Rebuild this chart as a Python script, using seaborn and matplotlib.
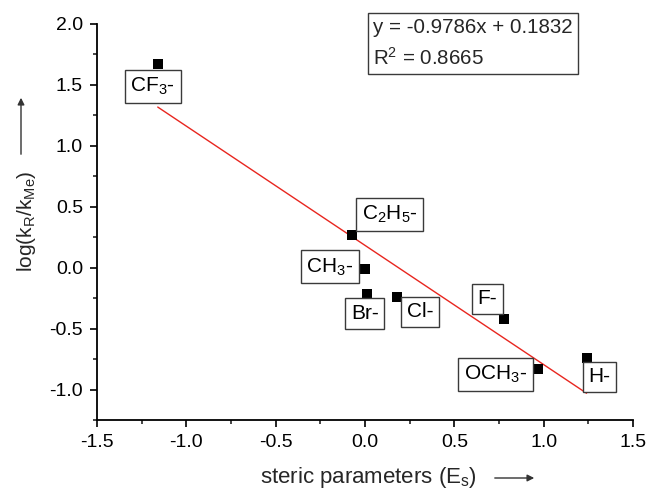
import matplotlib
matplotlib.use("Agg")
import matplotlib.pyplot as plt
from matplotlib.ticker import MultipleLocator, AutoMinorLocator
import seaborn as sns
import pandas as pd
import numpy as np

# Data
substituents = ["CF$_3$-", "C$_2$H$_5$-", "CH$_3$-", "Br-", "Cl-", "F-", "OCH$_3$-", "H-"]
steric_es = [-1.16, -0.07, 0.00, 0.01, 0.18, 0.78, 0.97, 1.24]
log_ratio = [1.67, 0.27, -0.01, -0.22, -0.24, -0.42, -0.83, -0.74]
fit_slope = -0.9786
fit_intercept = 0.1832
r_squared = 0.8665

# label offsets in pixels (layout)
label_offsets = [(-5, -22), (37, 20), (-35, 2), (-2, -19), (23, -15), (-17, 20), (-43, -6), (13, -19)]

sns.set_style("ticks")
plt.rcParams['font.family'] = ['Liberation Sans', 'DejaVu Sans']
plt.rcParams['mathtext.fontset'] = 'custom'
plt.rcParams['mathtext.rm'] = 'Liberation Sans'
plt.rcParams['mathtext.it'] = 'Liberation Sans'
plt.rcParams['mathtext.default'] = 'regular'

fig = plt.figure(figsize=(6.49, 4.92), dpi=100)
ax = fig.add_axes([97/649, 1-420/492, (633-97)/649, (420-24)/492])

df = pd.DataFrame({"x": steric_es, "y": log_ratio, "label": substituents})

xfit = np.array([min(steric_es), max(steric_es)])
fit_df = pd.DataFrame({"x": xfit, "y": fit_slope * xfit + fit_intercept})
sns.lineplot(data=fit_df, x="x", y="y", ax=ax, color="#e8261f", linewidth=1.0, zorder=2)

sns.scatterplot(data=df, x="x", y="y", ax=ax, marker="s", color="black",
                s=60, edgecolor="black", linewidth=0, zorder=3, clip_on=False)

for lbl, xx, yy, off in zip(substituents, steric_es, log_ratio, label_offsets):
    ax.annotate(lbl, (xx, yy), xytext=off, textcoords="offset pixels",
                ha="center", va="center", fontsize=15, color="black",
                bbox=dict(boxstyle="square,pad=0.28", fc="white", ec="#3a3a3a", lw=1.0),
                zorder=4, annotation_clip=False)

ax.set_xlim(-1.5, 1.5)
ax.set_ylim(-1.25, 2.0)
ax.xaxis.set_major_locator(MultipleLocator(0.5))
ax.yaxis.set_major_locator(MultipleLocator(0.5))
ax.xaxis.set_minor_locator(AutoMinorLocator(2))
ax.yaxis.set_minor_locator(AutoMinorLocator(2))
ax.xaxis.set_major_formatter(plt.FuncFormatter(lambda v, p: f"{v:.1f}"))
ax.yaxis.set_major_formatter(plt.FuncFormatter(lambda v, p: f"{v:.1f}"))
ax.tick_params(which="major", direction="out", length=5, width=1.2, labelsize=14, colors="black", pad=5)
ax.tick_params(which="minor", direction="out", length=3, width=1.2)
for s in ["left", "bottom"]:
    ax.spines[s].set_linewidth(1.3)
    ax.spines[s].set_color("black")
sns.despine(ax=ax)

ax.set_xlabel("")
ax.set_ylabel("")
fig.text(368/649, 1-478/492, "steric parameters (E$_s$)", ha="center", va="center", fontsize=16)
fig.text(27/649, 1-221/492, "log(k$_R$/k$_{Me}$)", ha="center", va="center", rotation=90, fontsize=15)

# arrows next to axis labels
fig.add_artist(matplotlib.patches.FancyArrowPatch((492/649, 1-478/492), (537/649, 1-478/492),
               transform=fig.transFigure, arrowstyle="-|>,head_length=4,head_width=2",
               color="#333333", lw=1.0))
fig.add_artist(matplotlib.patches.FancyArrowPatch((21/649, 1-157/492), (21/649, 1-95/492),
               transform=fig.transFigure, arrowstyle="-|>,head_length=4,head_width=2",
               color="#333333", lw=1.0))

# equation box
ax.text((373-97)/(633-97), (420-18)/(420-24),
        f"y = {fit_slope}x + {fit_intercept}\nR$^2$ = {r_squared}",
        transform=ax.transAxes, ha="left", va="top", fontsize=14.8, linespacing=1.55,
        bbox=dict(boxstyle="square,pad=0.25", fc="white", ec="#3a3a3a", lw=1.0), clip_on=False)

fig.savefig("out.png", dpi=100)
